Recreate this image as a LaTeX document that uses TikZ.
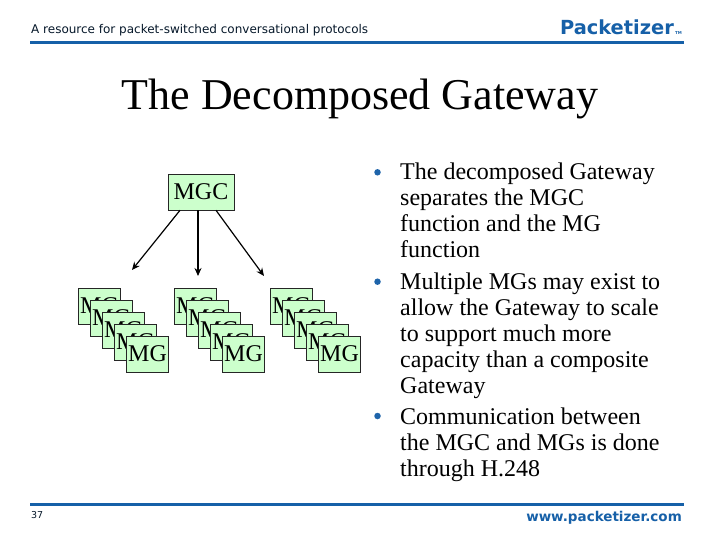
\documentclass[tikz,border=0pt]{standalone}
\usepackage{fontspec}
\setmainfont{Liberation Serif}
\newfontfamily\hdfont{DejaVu Sans}
\usetikzlibrary{arrows.meta}
\definecolor{pblue}{RGB}{22,96,168}
\definecolor{boxgreen}{RGB}{204,255,204}
\definecolor{bullblue}{RGB}{30,100,170}
\tikzset{
  x=1pt,y=-1pt,
  box/.style={draw=black!85,line width=0.6pt,fill=boxgreen,inner sep=0pt,minimum width=42.5pt,minimum height=36pt,font=\fontsize{24}{24}\selectfont,text=black},
  mgcbox/.style={box,minimum width=66pt},
  rulebar/.style={pblue,line width=3pt},
  link/.style={draw=black,line width=1.2pt,-{Stealth[length=8pt,width=7pt]}},
  para/.style={anchor=base west,inner sep=0pt,align=left,font=\fontsize{24}{26}\selectfont},
  dot/.style={circle,fill=bullblue,inner sep=0pt,minimum size=6.5pt},
}
\newcommand{\mgstack}[3]{%
  \foreach \i in {0,...,4}{
    \node[box] (#1\i) at ({#2+\i*12},{#3+\i*12}) {MG};
  }
}
\begin{document}
\begin{tikzpicture}
\useasboundingbox (0,0) rectangle (720,540);
\fill[white] (0,0) rectangle (720,540);
% header
\node[anchor=base west,inner sep=0pt,text=black!75!pblue,font=\hdfont\fontsize{12}{12}\selectfont] (tag) at (31,34) {A resource for packet-switched conversational protocols};
\node[anchor=base east,inner sep=0pt,text=pblue,font=\hdfont\bfseries\fontsize{19.4}{19}\selectfont] (logo) at (674,35) {Packetizer};
\node[anchor=base west,inner sep=0pt,text=pblue,font=\hdfont\bfseries\fontsize{4}{4}\selectfont] (tm) at (675,35) {TM};
\coordinate (r1a) at (30,42.5); \coordinate (r1b) at (684,42.5);
\draw[rulebar] (r1a) -- (r1b);
% title
\node[anchor=base,inner sep=0pt,font=\fontsize{44}{44}\selectfont] (title) at (360,110) {The Decomposed Gateway};
% diagram
\node[mgcbox] (mgc) at (201,192) {MGC};
\mgstack{a}{99.5}{306}
\mgstack{b}{195.5}{306}
\mgstack{c}{291.5}{306}
\coordinate (ta) at (132,270);
\coordinate (tb) at (198,276);
\coordinate (tc) at (264,276);
\draw[link] ([xshift=-21pt]mgc.south) -- (ta);
\draw[link] ([xshift=-3pt]mgc.south) -- (tb);
\draw[link] ([xshift=15pt]mgc.south) -- (tc);
% bullets
\node[dot] (d1) at (377.5,172.3) {};
\node[para] (p1) at (400,258) {The decomposed Gateway\\separates the MGC\\function and the MG\\function};
\node[dot] (d2) at (377.5,281.7) {};
\node[para] (p2) at (400,393) {Multiple MGs may exist to\\allow the Gateway to scale\\to support much more\\capacity than a composite\\Gateway};
\node[dot] (d3) at (377.5,416) {};
\node[para] (p3) at (400,476) {Communication between\\the MGC and MGs is done\\through H.248};
% footer
\coordinate (r2a) at (30,504.5); \coordinate (r2b) at (684,504.5);
\draw[rulebar] (r2a) -- (r2b);
\node[anchor=base west,inner sep=0pt,text=black!75!pblue,font=\hdfont\fontsize{9.5}{10}\selectfont] (page) at (31,518) {37};
\node[anchor=base east,inner sep=0pt,text=pblue,font=\hdfont\bfseries\fontsize{13.5}{14}\selectfont] (url) at (682,521) {www.packetizer.com};
\end{tikzpicture}
\end{document}
